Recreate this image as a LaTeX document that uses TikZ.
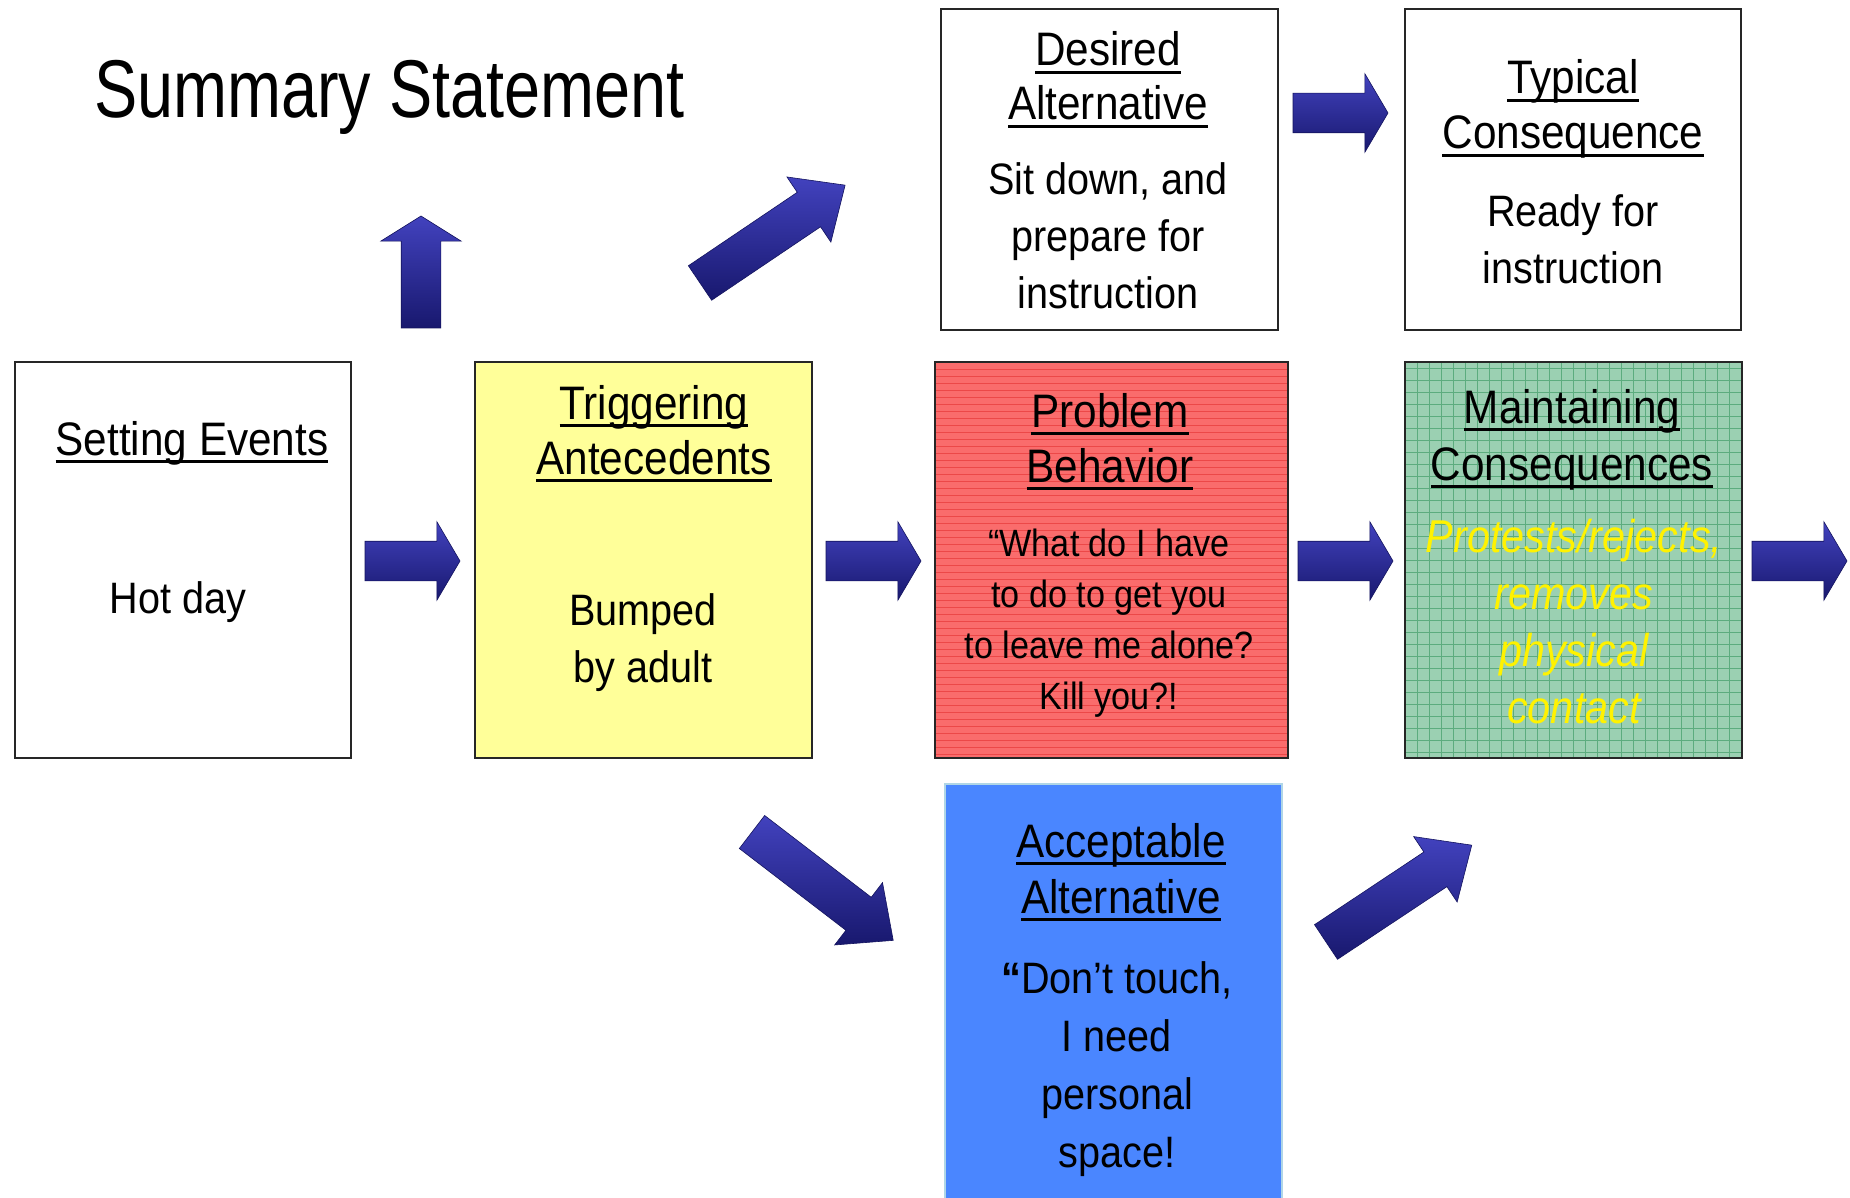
\documentclass[tikz,border=0pt]{standalone}
\usepackage{fontspec}
\setmainfont{Liberation Sans}[FakeStretch=0.9]
\newfontfamily\titlefont{Liberation Sans}[FakeStretch=0.79]
\usetikzlibrary{shapes.arrows}
\definecolor{boxyellow}{RGB}{255,255,153}
\definecolor{boxred}{RGB}{250,108,108}
\definecolor{redline}{RGB}{236,72,72}
\definecolor{boxgreen}{RGB}{155,208,178}
\definecolor{greenline}{RGB}{92,172,126}
\definecolor{boxblue}{RGB}{74,134,255}
\definecolor{blueedge}{RGB}{176,214,230}
\definecolor{arrtop}{RGB}{66,66,190}
\definecolor{arrmid}{RGB}{40,40,158}
\definecolor{arrbot}{RGB}{24,24,110}
\definecolor{arredge}{RGB}{20,20,95}
\newsavebox\myulbox
\newcommand\myul[1]{\sbox\myulbox{#1}\rlap{\vrule height -5pt depth 8pt width \wd\myulbox}\usebox\myulbox}
\newcommand\cblock[1]{\vtop{\halign{\hfil##\hfil\cr#1\crcr}}}
\begin{document}
\begin{tikzpicture}[x=1pt,y=-1pt,
  box/.style={draw=black!85, line width=2pt, inner sep=0pt, anchor=north west},
  headtxt/.style={anchor=base, inner sep=0pt, font=\fontsize{47}{55}\selectfont},
  bodytxt/.style={anchor=base, inner sep=0pt, font=\fontsize{44}{57}\selectfont},
  barrow/.style={single arrow, inner xsep=0pt, outer sep=0pt, anchor=tail,
    single arrow head indent=0pt,
    top color=arrtop, middle color=arrmid, bottom color=arrbot,
    draw=arredge, line width=0.6pt},
  harrow/.style={barrow, minimum height=95pt, inner ysep=19.5pt,
    single arrow head extend=19.5pt, single arrow tip angle=119},
  darrow/.style={barrow, inner ysep=20.5pt,
    single arrow head extend=18.5pt, single arrow tip angle=84}
]
\useasboundingbox (0,0) rectangle (1850,1198);
\fill[white] (0,0) rectangle (1850,1198);

% title
\node[anchor=base west, inner sep=0pt, font=\titlefont\fontsize{82}{90}\selectfont] (title) at (94,118) {Summary Statement};

% boxes
\node[box, minimum width=336pt, minimum height=396pt] (setting) at (14,361) {};
\node[box, fill=boxyellow, minimum width=337pt, minimum height=396pt] (trig) at (474,361) {};
\node[box, fill=boxred, minimum width=353pt, minimum height=396pt,
  path picture={\foreach \k in {1,...,56}
    \draw[redline, line width=1pt] ([yshift=-7*\k pt]path picture bounding box.north west) -- ([yshift=-7*\k pt]path picture bounding box.north east);}] (prob) at (934,361) {};
\node[box, fill=boxgreen, minimum width=337pt, minimum height=396pt,
  path picture={\draw[greenline, line width=1pt, step=12pt]
    (path picture bounding box.south west) grid (path picture bounding box.north east);}] (maint) at (1404,361) {};
\node[box, minimum width=337pt, minimum height=321pt] (desired) at (940,8) {};
\node[box, minimum width=336pt, minimum height=321pt] (typical) at (1404,8) {};
\node[box, draw=blueedge, fill=boxblue, minimum width=337pt, minimum height=427pt] (accept) at (944,783) {};

% texts
\node[headtxt] (seH) at (192,455) {\cblock{\myul{Setting Events}}};
\node[bodytxt] (seB) at (178,613) {\cblock{Hot day}};

\node[headtxt] (trH) at (654,419) {\cblock{\myul{Triggering}\cr\myul{Antecedents}}};
\node[bodytxt] (trB) at (643,625) {\cblock{Bumped\cr by adult}};

\node[headtxt] (prH) at (1110,427) {\cblock{\myul{Problem}\cr\myul{Behavior}}};
\node[bodytxt, font=\fontsize{38}{51}\selectfont] (prB) at (1109,556)
  {\cblock{“What do I have\cr to do to get you\cr to leave me alone?\cr Kill you?!}};

\node[headtxt, font=\fontsize{47}{57}\selectfont] (maH) at (1572,423) {\cblock{\myul{Maintaining}\cr\myul{Consequences}}};
\node[bodytxt, text=yellow, font=\fontsize{46}{57}\selectfont\itshape] (maB) at (1574,552)
  {\cblock{Protests/rejects,\cr removes\cr physical\cr contact}};

\node[headtxt, font=\fontsize{47}{54}\selectfont] (deH) at (1108,66) {\cblock{\myul{Desired}\cr\myul{Alternative}}};
\node[bodytxt, font=\fontsize{44}{57}\selectfont] (deB) at (1108,195) {\cblock{Sit down, and\cr prepare for\cr instruction}};

\node[headtxt, font=\fontsize{47}{55}\selectfont] (tyH) at (1573,94) {\cblock{\myul{Typical}\cr\myul{Consequence}}};
\node[bodytxt, font=\fontsize{44}{57}\selectfont] (tyB) at (1573,227) {\cblock{Ready for\cr instruction}};

\node[headtxt, font=\fontsize{47}{56}\selectfont] (acH) at (1121,857) {\cblock{\myul{Acceptable}\cr\myul{Alternative}}};
\node[bodytxt, font=\fontsize{44}{58}\selectfont] (acB) at (1117,993)
  {\cblock{{\bfseries“}Don’t touch,\cr I need\cr personal\cr space!}};

% block arrows (placed by their tails)
\node[barrow, rotate=90, minimum height=112pt, inner ysep=19.5pt,
  single arrow head extend=20.5pt, single arrow tip angle=116] (aup) at (421,328) {};
\node[harrow] (a1) at (365,561) {};
\node[harrow] (a2) at (826,561) {};
\node[harrow] (a3) at (1298,561) {};
\node[harrow] (a4) at (1752,561) {};
\node[harrow] (atop) at (1293,113) {};
\node[darrow, rotate=34, minimum height=175pt] (ane1) at (700,283) {};
\node[darrow, rotate=-37.5, minimum height=178pt] (ase) at (752,832) {};
\node[darrow, rotate=33.6, minimum height=175pt] (ane2) at (1326,942) {};
\end{tikzpicture}
\end{document}
